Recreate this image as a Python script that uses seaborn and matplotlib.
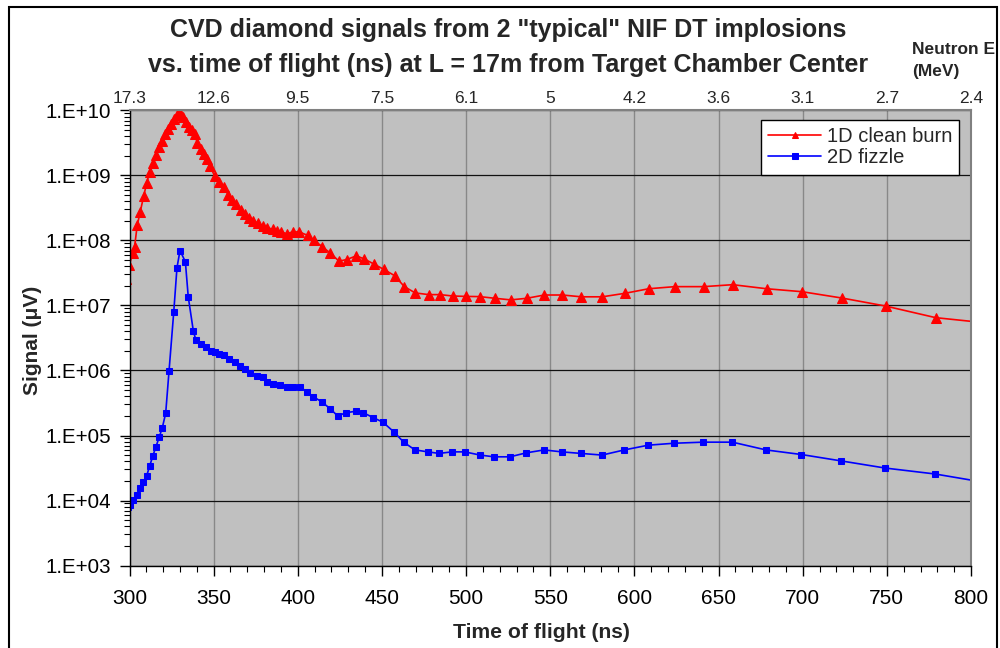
import numpy as np
import pandas as pd
import matplotlib
matplotlib.use("Agg")
import matplotlib.pyplot as plt
import matplotlib.ticker as mticker
from matplotlib.patches import Rectangle
import seaborn as sns

# ---- data ----
red_t = [298.0, 299.9, 301.9, 303.0, 304.6, 306.4, 308.4, 310.2, 312.0, 313.8,
         315.6, 317.5, 319.3, 321.1, 322.9, 324.7, 326.4, 328.2, 329.6, 330.8,
         332.0, 333.7, 335.5, 337.1, 338.7, 340.3, 342.3, 344.1, 346.0, 347.8,
         350.6, 353.0, 356.3, 358.7, 360.9, 363.3, 366.1, 368.6, 371.2, 373.6,
         376.2, 379.1, 381.9, 385.1, 387.5, 390.0, 393.5, 397.1, 401.0, 405.8,
         409.8, 414.6, 419.3, 424.5, 429.1, 434.8, 439.5, 445.5, 451.0, 457.6,
         463.3, 469.8, 477.8, 484.5, 492.0, 499.8, 508.0, 517.2, 526.5, 536.0,
         546.5, 557.2, 568.5, 580.9, 594.4, 608.5, 624.0, 641.2, 658.4, 678.6,
         699.6, 723.5, 749.3, 779.0, 803.0]
red_v = [2.6e7, 4.2e7, 6.4e7, 7.9e7, 1.73e8, 2.77e8, 4.8e8, 7.6e8, 1.14e9, 1.57e9,
         2.07e9, 2.72e9, 3.43e9, 4.3e9, 5.2e9, 6.2e9, 7.3e9, 8.4e9, 8.8e9, 8.4e9,
         7.8e9, 6.6e9, 5.6e9, 5.0e9, 4.3e9, 3.2e9, 2.56e9, 2.12e9, 1.77e9, 1.40e9,
         9.8e8, 8.0e8, 6.6e8, 5.0e8, 4.2e8, 3.6e8, 2.95e8, 2.56e8, 2.24e8, 2.02e8,
         1.84e8, 1.67e8, 1.57e8, 1.49e8, 1.42e8, 1.35e8, 1.27e8, 1.36e8, 1.35e8, 1.20e8,
         1.0e8, 8.0e7, 6.4e7, 4.8e7, 5.1e7, 5.8e7, 5.2e7, 4.3e7, 3.6e7, 2.87e7,
         1.95e7, 1.56e7, 1.47e7, 1.47e7, 1.40e7, 1.38e7, 1.37e7, 1.29e7, 1.22e7, 1.29e7,
         1.45e7, 1.45e7, 1.36e7, 1.36e7, 1.54e7, 1.81e7, 1.95e7, 1.95e7, 2.09e7, 1.81e7,
         1.63e7, 1.30e7, 9.8e6, 6.5e6, 5.6e6]

blue_t = [299.3, 300.3, 302.3, 304.3, 306.2, 308.2, 310.2, 312.0, 313.8, 315.7,
          317.7, 319.5, 321.5, 323.5, 326.3, 328.2, 330.0, 333.2, 334.9, 337.9,
          339.5, 342.3, 345.5, 348.4, 351.0, 353.4, 356.1, 358.9, 362.7, 365.7,
          368.6, 371.6, 375.6, 379.1, 381.9, 385.4, 389.4, 393.4, 397.3, 401.3,
          405.6, 409.2, 414.2, 419.1, 423.7, 428.6, 434.4, 438.9, 444.9, 450.6,
          457.2, 462.9, 469.6, 477.4, 483.9, 491.6, 499.2, 508.3, 516.6, 526.1,
          535.6, 546.3, 556.8, 568.3, 580.8, 594.0, 608.3, 623.5, 640.9, 658.2,
          678.2, 699.2, 723.0, 748.9, 778.6, 803.0]
blue_v = [7.9e3, 8.5e3, 1.02e4, 1.22e4, 1.54e4, 1.9e4, 2.4e4, 3.4e4, 4.8e4, 6.7e4,
          9.5e4, 1.32e5, 2.2e5, 9.9e5, 8.0e6, 3.8e7, 7.0e7, 4.7e7, 1.36e7, 4.1e6,
          2.9e6, 2.6e6, 2.3e6, 2.0e6, 1.9e6, 1.81e6, 1.71e6, 1.52e6, 1.37e6, 1.17e6,
          1.04e6, 9.3e5, 8.2e5, 7.9e5, 6.6e5, 6.2e5, 5.9e5, 5.6e5, 5.6e5, 5.6e5,
          4.65e5, 3.95e5, 3.3e5, 2.6e5, 2.0e5, 2.24e5, 2.36e5, 2.24e5, 1.88e5, 1.6e5,
          1.13e5, 7.9e4, 6.0e4, 5.6e4, 5.3e4, 5.6e4, 5.6e4, 5.0e4, 4.7e4, 4.7e4,
          5.4e4, 6.0e4, 5.6e4, 5.3e4, 5.0e4, 6.0e4, 7.1e4, 7.6e4, 7.9e4, 7.9e4,
          6.0e4, 5.1e4, 4.06e4, 3.16e4, 2.56e4, 2.0e4]

series_names = ["1D clean burn", "2D fizzle"]
x_ticks = [300, 350, 400, 450, 500, 550, 600, 650, 700, 750, 800]
top_labels = ["17.3", "12.6", "9.5", "7.5", "6.1", "5", "4.2", "3.6", "3.1", "2.7", "2.4"]

title_1 = 'CVD diamond signals from 2 "typical" NIF DT implosions'
title_2 = 'vs. time of flight (ns) at L = 17m from Target Chamber Center'

# ---- style ----
sns.set_style("white")
plt.rcParams["font.family"] = ["Liberation Sans", "DejaVu Sans"]

fig = plt.figure(figsize=(10, 6.48), dpi=100)
ax = fig.add_axes([0.1295, 0.1273, 0.8415, 0.7022])
ax.set_facecolor("#C0C0C0")

df_red = pd.DataFrame({"t": red_t, "v": red_v})
df_blue = pd.DataFrame({"t": blue_t, "v": blue_v})

sns.lineplot(data=df_red, x="t", y="v", ax=ax, color="#FF0000", marker="^",
             markersize=6.8, markeredgecolor="#FF0000", linewidth=1.2,
             label=series_names[0], estimator=None, sort=False)
sns.lineplot(data=df_blue, x="t", y="v", ax=ax, color="#0000FF", marker="s",
             markersize=5, markeredgecolor="#0000FF", linewidth=1.2,
             label=series_names[1], estimator=None, sort=False)

ax.set_yscale("log")
ax.set_xlim(300, 800)
ax.set_ylim(1e3, 1e10)

ax.xaxis.set_major_locator(mticker.FixedLocator(x_ticks))
ax.xaxis.set_minor_locator(mticker.MultipleLocator(10))
ax.xaxis.set_minor_formatter(mticker.NullFormatter())
ax.yaxis.set_major_locator(mticker.LogLocator(base=10, numticks=20))
ax.yaxis.set_minor_locator(mticker.LogLocator(base=10, subs=np.arange(2, 10), numticks=20))
ax.yaxis.set_minor_formatter(mticker.NullFormatter())
ax.yaxis.set_major_formatter(mticker.FuncFormatter(
    lambda v, p: "1.E+%02d" % int(round(np.log10(v)))))

ax.tick_params(axis="both", which="major", direction="out", length=7, width=1,
               color="black", labelcolor="black")
ax.tick_params(axis="both", which="minor", direction="out", length=4, width=0.8,
               color="black")
ax.tick_params(axis="x", which="major", labelsize=15, pad=10)
ax.tick_params(axis="y", which="major", labelsize=14.8, pad=6)
ax.tick_params(axis="both", bottom=True, left=True, which="both")

ax.set_axisbelow(True)
ax.yaxis.grid(True, which="major", color="#111111", linewidth=0.9)
ax.xaxis.grid(True, which="major", color="#888888", linewidth=1.0)
ax.set_xlabel("")
ax.set_ylabel("")
ax.xaxis.label.set_visible(False)
ax.yaxis.label.set_visible(False)

for side in ["left", "bottom"]:
    ax.spines[side].set_color("black")
    ax.spines[side].set_linewidth(1.0)
for side in ["top", "right"]:
    ax.spines[side].set_color("#808080")
    ax.spines[side].set_linewidth(1.5)

sec = ax.secondary_xaxis("top")
sec.set_xticks(x_ticks, labels=top_labels)
sec.tick_params(length=0, labelsize=12.5, pad=3)
sec.spines["top"].set_visible(False)

leg = ax.legend(loc="upper right", bbox_to_anchor=(0.9593, 1 - 120 / 648),
                bbox_transform=fig.transFigure, frameon=True, fancybox=False,
                framealpha=1, edgecolor="black", fontsize=14.5, handlelength=2.6,
                borderpad=0.35, labelspacing=0.12, handletextpad=0.3,
                borderaxespad=0)
leg.get_frame().set_linewidth(1.0)
for h in leg.legend_handles:
    h.set_markersize(5)

fig.text(0.508, 1 - 37.3 / 648, title_1, ha="center", va="baseline",
         fontsize=18, fontweight="bold")
fig.text(0.508, 1 - 71.7 / 648, title_2, ha="center", va="baseline",
         fontsize=18, fontweight="bold")
fig.text(0.912, 1 - 54 / 648, "Neutron E", ha="left", va="baseline",
         fontsize=12.5, fontweight="bold")
fig.text(0.912, 1 - 76 / 648, "(MeV)", ha="left", va="baseline",
         fontsize=12.5, fontweight="bold")
fig.text(0.541, 1 - 632 / 648, "Time of flight (ns)", ha="center", va="center",
         fontsize=15.2, fontweight="bold")
fig.text(0.033, 1 - 340 / 648, "Signal (\u03bcV)", ha="center", va="center",
         rotation=90, fontsize=15, fontweight="bold")

fig.patches.append(Rectangle((0.009, -0.05), 0.988, 1 - 7 / 648 + 0.05,
                             transform=fig.transFigure, fill=False,
                             edgecolor="black", linewidth=1.5, zorder=10))

fig.savefig("out.png", dpi=100)
